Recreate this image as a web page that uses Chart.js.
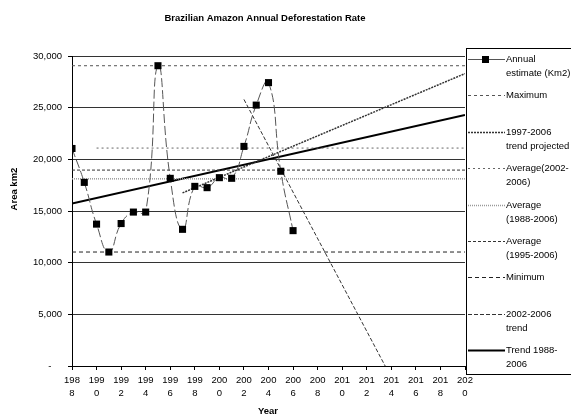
<!DOCTYPE html>
<html>
<head>
<meta charset="utf-8">
<title>Brazilian Amazon Annual Deforestation Rate</title>
<script src="https://cdn.jsdelivr.net/npm/chart.js@4.4.0/dist/chart.umd.min.js"></script>
<style>
  html, body { margin: 0; padding: 0; background: #fff; }
  #chart { display: block; }
</style>
</head>
<body>
<canvas id="chart" width="571" height="419"></canvas>
<script>
// annual estimates (km2)
const years = [1988, 1989, 1990, 1991, 1992, 1993, 1994, 1995, 1996, 1997,
               1998, 1999, 2000, 2001, 2002, 2003, 2004, 2005, 2006];
const annualEstimate = [21050, 17770, 13730, 11030, 13786, 14896, 14896, 29059, 18161, 13227,
                        17383, 17259, 18226, 18165, 21250, 25247, 27423, 18846, 13100];

// reference lines: start/end year and start/end value
const fullSpan = [1988, 2020];
const maximumValues = [29059, 29059];
const minimumValues = [11030, 11030];
const avg0206Years = [1990, 2020];
const avg0206Values = [21090, 21090];
const avg8806Values = [18115, 18115];
const avg9506Values = [18960, 18960];
const trend9706Years = [1997, 2020];
const trend9706Values = [16750, 28300];
const trend0206Years = [2002, 2013.5];
const trend0206Values = [25800, 0];
const trend8806Values = [15730, 24290];

const FONT = '"Liberation Sans", Arial, sans-serif';
const toPoints = (xs, ys) => xs.map((x, i) => ({ x: x, y: ys[i] }));

// title, axis titles and the boxed legend on the right
const sideText = {
    id: "sideText",
    afterDraw(chart) {
        const ctx = chart.ctx;
        ctx.save();
        ctx.fillStyle = "#000";
        ctx.font = "bold 9.5px " + FONT;
        ctx.textAlign = "center";
        ctx.textBaseline = "middle";
        ctx.fillText("Brazilian Amazon Annual Deforestation Rate", 265, 18);
        ctx.fillText("Year", 268, 411);
        ctx.save();
        ctx.translate(14, 189);
        ctx.rotate(-Math.PI / 2);
        ctx.fillText("Area km2", 0, 0);
        ctx.restore();

        // legend box
        ctx.strokeStyle = "#000";
        ctx.lineWidth = 1;
        ctx.strokeRect(466.5, 48.5, 120, 326);
        ctx.font = "9.5px " + FONT;
        ctx.textAlign = "left";
        chart.data.datasets.forEach((ds, i) => {
            const y = Math.round(59 + i * 36.4);
            ctx.save();
            ctx.strokeStyle = ds.borderColor;
            ctx.lineWidth = ds.borderWidth;
            ctx.setLineDash(ds.legendDash || ds.borderDash || []);
            ctx.beginPath();
            ctx.moveTo(468, y + 0.5);
            ctx.lineTo(505, y + 0.5);
            ctx.stroke();
            ctx.restore();
            if (ds.pointRadius) {
                ctx.fillRect(482, y - 3, 7, 7);
            }
            ds.label.split("\n").forEach((t, k) => ctx.fillText(t, 506, y + k * 14));
        });
        ctx.restore();
    }
};

const ctx = document.getElementById("chart").getContext("2d");
new Chart(ctx, {
    type: "line",
    data: {
        datasets: [
            {
                label: "Annual\nestimate (Km2)",
                data: toPoints(years, annualEstimate),
                borderColor: "#555",
                borderWidth: 1,
                borderDash: [9, 3],
                legendDash: [],
                tension: 0.5,
                pointStyle: "rect",
                pointRadius: 5,
                pointBackgroundColor: "#000",
                pointBorderColor: "#000",
                pointBorderWidth: 0,
            },
            {
                label: "Maximum",
                data: toPoints(fullSpan, maximumValues),
                borderColor: "#555",
                borderWidth: 1,
                borderDash: [3, 3],
                pointRadius: 0,
            },
            {
                label: "1997-2006\ntrend projected",
                data: toPoints(trend9706Years, trend9706Values),
                borderColor: "#333",
                borderWidth: 1.5,
                borderDash: [2, 1],
                pointRadius: 0,
            },
            {
                label: "Average(2002-\n2006)",
                data: toPoints(avg0206Years, avg0206Values),
                borderColor: "#666",
                borderWidth: 1,
                borderDash: [2, 3],
                pointRadius: 0,
            },
            {
                label: "Average\n(1988-2006)",
                data: toPoints(fullSpan, avg8806Values),
                borderColor: "#999",
                borderWidth: 1.5,
                borderDash: [1, 1],
                pointRadius: 0,
            },
            {
                label: "Average\n(1995-2006)",
                data: toPoints(fullSpan, avg9506Values),
                borderColor: "#333",
                borderWidth: 1,
                borderDash: [3, 2],
                pointRadius: 0,
            },
            {
                label: "Minimum",
                data: toPoints(fullSpan, minimumValues),
                borderColor: "#222",
                borderWidth: 1,
                borderDash: [4, 3],
                pointRadius: 0,
            },
            {
                label: "2002-2006\ntrend",
                data: toPoints(trend0206Years, trend0206Values),
                borderColor: "#333",
                borderWidth: 1,
                borderDash: [4, 2],
                pointRadius: 0,
            },
            {
                label: "Trend 1988-\n2006",
                data: toPoints(fullSpan, trend8806Values),
                borderColor: "#000",
                borderWidth: 2,
                pointRadius: 0,
            },
        ],
    },
    options: {
        responsive: false,
        animation: false,
        devicePixelRatio: 1,
        layout: { padding: { top: 56, right: 106, left: 0, bottom: 0 } },
        plugins: {
            legend: { display: false },
            title: { display: false },
            tooltip: { enabled: false },
        },
        scales: {
            x: {
                type: "linear",
                min: 1988,
                max: 2020,
                afterFit: (s) => { s.height = 53; },
                border: { color: "#000", width: 1 },
                grid: { drawOnChartArea: false, drawTicks: true, tickLength: 4, tickColor: "#000" },
                ticks: {
                    stepSize: 2,
                    autoSkip: false,
                    maxRotation: 0,
                    padding: 4,
                    color: "#000",
                    font: { family: FONT, size: 9.5, lineHeight: 1.35 },
                    callback: (v) => { const s = String(v); return [s.slice(0, 3), s.slice(3)]; },
                },
            },
            y: {
                min: 0,
                max: 30000,
                afterFit: (s) => { s.width = 72; },
                border: { color: "#000", width: 1 },
                grid: { color: "#333", lineWidth: 1, drawTicks: true, tickLength: 4, tickColor: "#000" },
                ticks: {
                    stepSize: 5000,
                    padding: 6,
                    color: "#000",
                    font: { family: FONT, size: 9.5 },
                    callback: (v) => v === 0 ? "-    " : v.toLocaleString("en-US"),
                },
            },
        },
    },
    plugins: [sideText],
});
</script>
</body>
</html>
